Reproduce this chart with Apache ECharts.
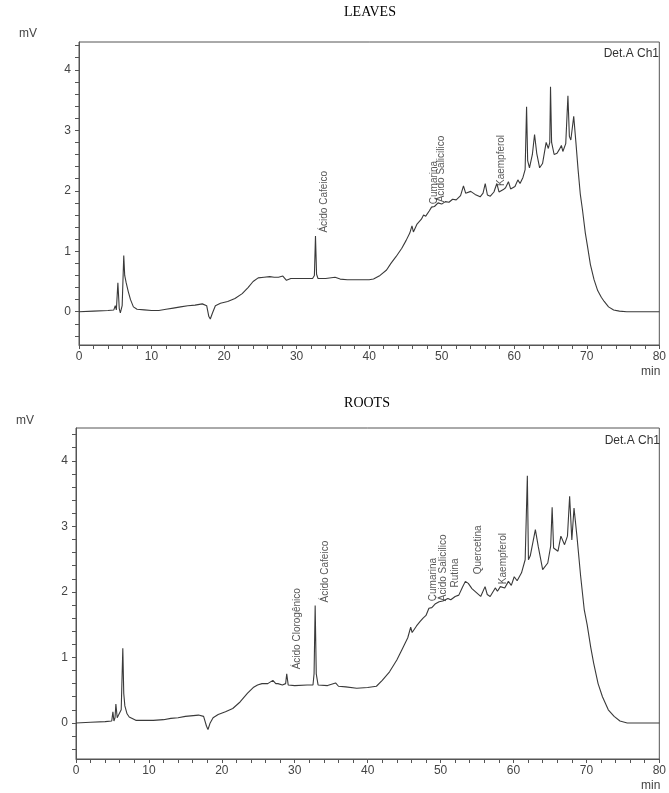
<!DOCTYPE html>
<html>
<head>
<meta charset="utf-8">
<script src="https://cdn.jsdelivr.net/npm/echarts@6/dist/echarts.min.js"></script>
<style>html,body{margin:0;padding:0;background:#fff}#c{width:669px;height:793px}</style>
</head>
<body>
<div id="c"></div>
<script>
// ---- DATA ----
const xTickLabels = [0, 10, 20, 30, 40, 50, 60, 70, 80];
const yTickLabels = [0, 1, 2, 3, 4];
const yMinorTicks = [-0.4,-0.2,0,0.2,0.4,0.6,0.8,1,1.2,1.4,1.6,1.8,2,2.2,2.4,2.6,2.8,3,3.2,3.4,3.6,3.8,4,4.2,4.4];

const leavesTime = [0,2,4,4.8,5.0,5.15,5.36,5.55,5.7,5.95,6.17,6.3,6.5,6.8,7.1,7.5,8,9,10,11,12,13,14,15,16,17,17.6,17.9,18.1,18.4,18.8,19.5,20.5,21.5,22.5,23.3,24.0,24.7,25.5,26.3,26.9,27.5,28.1,28.6,29.2,30.1,31,32.2,32.45,32.6,32.75,32.95,34,35.3,36,37,38,39,40,40.6,41.5,42.4,43.0,43.7,44.5,45.1,45.6,45.9,46.1,46.6,47.2,47.5,47.8,48.3,48.6,49.0,49.5,50.0,50.5,51.0,51.5,52.0,52.6,53.0,53.3,54.0,54.6,55.3,55.7,56.0,56.3,56.7,57.2,57.6,57.9,58.5,58.8,59.2,59.5,60.1,60.5,60.8,61.2,61.5,61.7,61.85,62.1,62.5,62.8,63.1,63.5,63.9,64.4,64.7,64.9,65.0,65.15,65.5,65.9,66.2,66.5,66.7,67.1,67.4,67.6,67.8,68.2,68.5,68.8,69.1,69.4,69.8,70.1,70.5,71.0,71.5,72.0,72.4,73.0,73.7,74.5,75.5,77,80];
const leavesSignal = [0,0.01,0.02,0.03,0.10,0.03,0.48,0.05,-0.02,0.10,0.93,0.60,0.48,0.33,0.20,0.08,0.04,0.03,0.02,0.02,0.04,0.06,0.08,0.10,0.11,0.13,0.10,-0.08,-0.12,-0.02,0.10,0.14,0.17,0.22,0.30,0.40,0.50,0.56,0.57,0.58,0.57,0.57,0.59,0.52,0.55,0.55,0.55,0.55,0.60,1.25,0.62,0.55,0.55,0.57,0.54,0.53,0.53,0.53,0.53,0.54,0.60,0.69,0.80,0.91,1.05,1.18,1.30,1.42,1.32,1.45,1.53,1.60,1.58,1.67,1.73,1.74,1.80,1.78,1.82,1.81,1.86,1.85,1.92,2.08,1.96,1.99,1.94,1.90,1.96,2.12,1.93,1.91,1.98,2.12,1.98,2.02,2.05,2.15,2.03,2.07,2.18,2.12,2.22,2.35,3.39,2.50,2.38,2.60,2.93,2.62,2.38,2.45,2.80,2.70,2.80,3.72,2.80,2.60,2.62,2.68,2.75,2.65,2.78,3.57,2.90,2.84,3.23,2.80,2.35,1.95,1.69,1.30,1.08,0.78,0.53,0.35,0.24,0.17,0.08,0.03,0.01,0,0,0];

const rootsTime = [0,2,4,4.9,5.06,5.2,5.35,5.47,5.65,5.9,6.2,6.42,6.55,6.7,7.0,7.3,8.2,10.6,12,13,14,15,16.8,17.5,17.9,18.1,18.4,18.8,19.5,20.5,21.5,22.5,23.5,24.3,24.9,25.5,26.3,27.0,27.4,27.7,28.3,28.75,28.9,29.1,30,31.7,32.5,32.65,32.8,32.95,33.2,34.5,35.6,36,37,38.5,40,41.2,42.0,43.0,44.0,44.8,45.5,45.9,46.1,46.7,47.2,47.6,48.0,48.4,48.8,49.3,49.8,50.3,51.0,51.4,52.0,52.5,53.0,53.4,53.8,54.3,54.8,55.5,56.1,56.4,56.8,57.5,57.8,58.2,58.8,59.3,59.7,60.1,60.5,61.1,61.6,61.9,62.05,62.3,63.0,63.4,64.0,64.7,65.1,65.3,65.5,66.1,66.5,67.0,67.4,67.7,68.0,68.3,68.7,69.2,69.7,70.1,70.6,71.0,71.6,72.2,73.0,73.8,74.6,75.6,77,80];
const rootsSignal = [0,0.01,0.02,0.03,0.17,0.03,0.08,0.29,0.08,0.05,0.20,1.14,0.45,0.26,0.14,0.09,0.04,0.04,0.05,0.07,0.08,0.10,0.12,0.10,-0.05,-0.10,0.0,0.08,0.13,0.17,0.22,0.32,0.45,0.54,0.58,0.60,0.60,0.65,0.60,0.60,0.58,0.60,0.75,0.58,0.57,0.58,0.58,0.75,1.79,0.75,0.58,0.57,0.61,0.56,0.55,0.53,0.54,0.56,0.65,0.78,0.96,1.14,1.30,1.46,1.38,1.48,1.55,1.60,1.64,1.75,1.76,1.82,1.85,1.86,1.90,1.88,1.93,1.95,2.07,2.16,2.13,2.05,2.00,1.93,2.08,1.96,1.93,2.06,2.01,2.08,2.06,2.16,2.10,2.23,2.17,2.29,2.49,3.77,2.49,2.55,2.95,2.69,2.34,2.44,2.70,3.29,2.67,2.62,2.85,2.72,2.85,3.46,2.79,3.28,2.85,2.25,1.73,1.50,1.15,0.91,0.60,0.40,0.20,0.10,0.03,0,0,0];

const leavesPeakNames = ['Ácido Cafeico', 'Cumarina', 'Ácido Salicilico', 'Kaempferol'];
const leavesPeakTime = [33.8, 49.0, 50.0, 58.2];
const leavesPeakSignal = [1.30, 1.77, 1.80, 2.07];

const rootsPeakNames = ['Ácido Clorogênico', 'Ácido Cafeico', 'Cumarina', 'Ácido Salicilico', 'Rutina', 'Quercetina', 'Kaempferol'];
const rootsPeakTime = [30.3, 34.2, 49.0, 50.3, 52.0, 55.2, 58.6];
const rootsPeakSignal = [0.81, 1.83, 1.85, 1.85, 2.06, 2.26, 2.11];

// ---- CHART ----
const pair = (xs, ys) => xs.map((x, i) => [x, ys[i]]);
const labelData = (names, xs, ys) => names.map((n, i) => ({ name: n, value: [xs[i], ys[i]] }));
const AX = '#555';
const FONT = 'Liberation Sans, Arial, sans-serif';

function xAxisOf(gi) {
  return {
    gridIndex: gi, type: 'value', min: 0, max: 80, interval: 10,
    axisLine: { show: true, onZero: false, lineStyle: { color: AX, width: 1 } },
    axisTick: { show: true, length: 4, lineStyle: { color: AX } },
    minorTick: { show: true, splitNumber: 5, length: 4, lineStyle: { color: AX } },
    axisLabel: { color: '#444', fontSize: 12, fontFamily: FONT, margin: 6,
      customValues: xTickLabels },
    splitLine: { show: false },
    name: 'min', nameLocation: 'end', nameGap: 1,
    nameTextStyle: { color: '#444', fontSize: 12, fontFamily: FONT, align: 'right', verticalAlign: 'top', padding: [21, 0, 0, 0] }
  };
}
function yAxisOf(gi, max, gap) {
  return {
    gridIndex: gi, type: 'value', min: -0.55, max: max,
    axisLine: { show: true, onZero: false, lineStyle: { color: AX, width: 1 } },
    axisTick: { show: true, length: 4, customValues: yMinorTicks, lineStyle: { color: AX } },
    axisLabel: { color: '#444', fontSize: 12, fontFamily: FONT, margin: 8, customValues: yTickLabels },
    splitLine: { show: false },
    name: 'mV', nameLocation: 'end', nameGap: gap,
    nameTextStyle: { color: '#444', fontSize: 12, fontFamily: FONT, align: 'right', verticalAlign: 'bottom', padding: [0, 42, 0, 0] }
  };
}
function labelSeries(xi, names, xs, ys) {
  return {
    type: 'scatter', xAxisIndex: xi, yAxisIndex: xi, silent: true,
    symbolSize: 1, itemStyle: { color: 'rgba(0,0,0,0)' },
    data: labelData(names, xs, ys),
    label: { show: true, formatter: '{b}', rotate: 90, position: 'top', distance: 0,
      align: 'left', verticalAlign: 'middle', fontSize: 10, fontFamily: FONT, color: '#2a2a2a' }
  };
}

const chart = echarts.init(document.getElementById('c'), null, { renderer: 'canvas' });
chart.setOption({
  animation: false,
  backgroundColor: '#fff',
  title: [
    { text: 'LEAVES', left: 365, top: 0, textAlign: 'center',
      textStyle: { fontFamily: 'Liberation Serif, Times New Roman, serif', fontWeight: 'normal', fontSize: 14, color: '#000' } },
    { text: 'ROOTS', left: 362, top: 391, textAlign: 'center',
      textStyle: { fontFamily: 'Liberation Serif, Times New Roman, serif', fontWeight: 'normal', fontSize: 14, color: '#000' } },
    { text: 'Det.A Ch1', right: 5, top: 43, textStyle: { fontFamily: FONT, fontWeight: 'normal', fontSize: 12, color: '#333' } },
    { text: 'Det.A Ch1', right: 4, top: 430, textStyle: { fontFamily: FONT, fontWeight: 'normal', fontSize: 12, color: '#333' } }
  ],
  grid: [
    { left: 79, right: 3, top: 42, height: 303, show: true, borderColor: AX, borderWidth: 1, backgroundColor: 'transparent' },
    { left: 76, right: 3, top: 428, height: 331, show: true, borderColor: AX, borderWidth: 1, backgroundColor: 'transparent' }
  ],
  xAxis: [xAxisOf(0), xAxisOf(1)],
  yAxis: [yAxisOf(0, 4.46, 2), yAxisOf(1, 4.50, 1)],
  series: [
    { type: 'line', xAxisIndex: 0, yAxisIndex: 0, data: pair(leavesTime, leavesSignal),
      showSymbol: false, symbol: 'none', lineStyle: { color: '#3a3a3a', width: 1.1 }, silent: true },
    { type: 'line', xAxisIndex: 1, yAxisIndex: 1, data: pair(rootsTime, rootsSignal),
      showSymbol: false, symbol: 'none', lineStyle: { color: '#3a3a3a', width: 1.1 }, silent: true },
    labelSeries(0, leavesPeakNames, leavesPeakTime, leavesPeakSignal),
    labelSeries(1, rootsPeakNames, rootsPeakTime, rootsPeakSignal)
  ]
});
</script>
</body>
</html>
